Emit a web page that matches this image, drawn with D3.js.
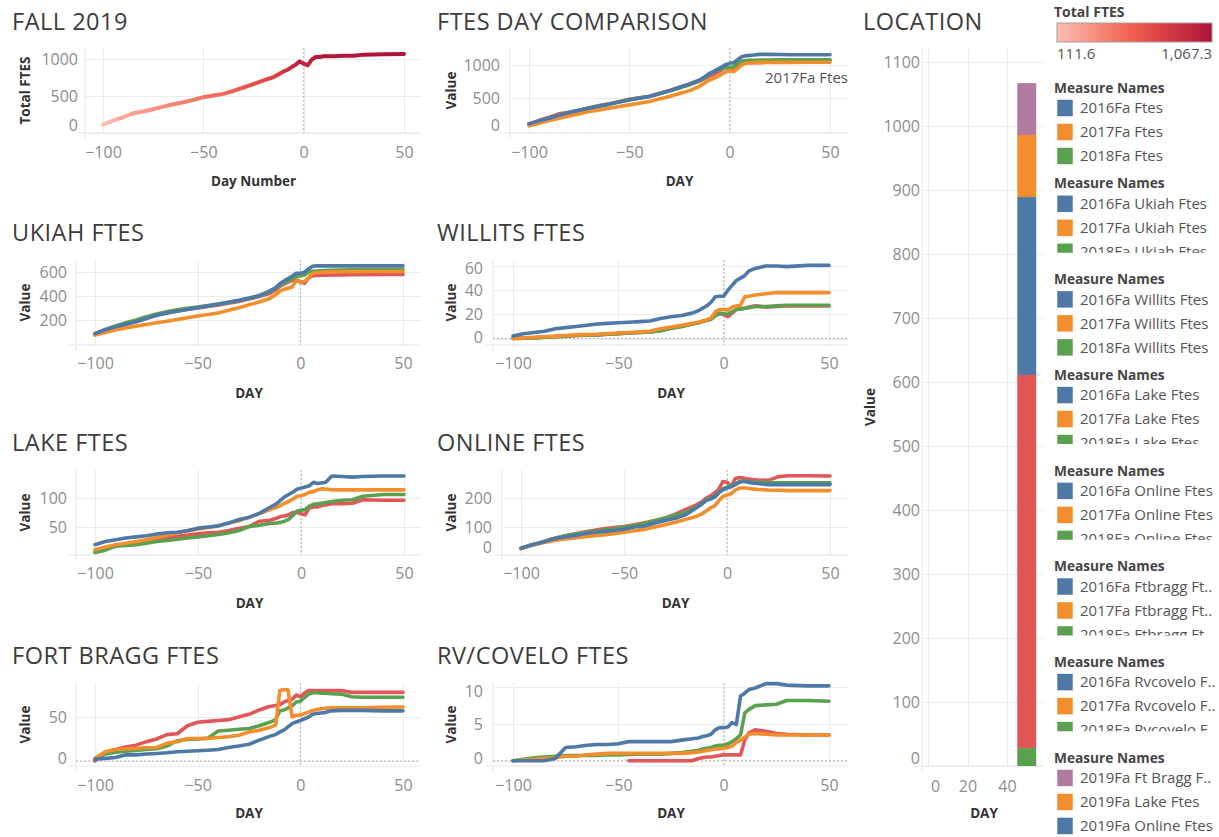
<!DOCTYPE html>
<html>
<head>
<meta charset="utf-8">
<title>FTES Dashboard</title>
<script src="https://cdn.jsdelivr.net/npm/d3@7"></script>
<style>
  body { margin: 0; background: #fff; }
  text { font-family: "Open Sans", "DejaVu Sans", sans-serif; }
  .ptitle { font-size: 23.5px; fill: #3c3c3c; letter-spacing: 0.5px; }
  .tick text { font-size: 16px; fill: #8d8d8d; }
  .axis-title { font-size: 13.5px; font-weight: bold; fill: #333; }
  .grid line { stroke: #ececec; shape-rendering: crispEdges; }
  .legend-head { font-size: 13.7px; font-weight: bold; fill: #444; }
  .legend-item { font-size: 15px; fill: #555; }
</style>
</head>
<body>
<svg id="chart" width="1219" height="837"></svg>
<script>
// day numbers sampled for every line chart
const days = [-100,-95,-90,-85,-80,-75,-70,-65,-60,-55,-50,-45,-40,-35,-30,-25,-20,-15,-12,-10,-8,-6,-4,-2,0,2,4,6,8,10,12,15,20,25,30,40,50];

// total FTES
const total2019 = [112,167,213,267,290,321,357,389,416,448,484,507,529,570,615,661,710,756,801,833,855,891,923,968,937,914,991,1027,1027,1036,1036,1036,1045,1045,1059,1063,1067];
const ftes2016 = [115,160,200,245,285,318,350,380,410,442,475,500,525,570,615,665,715,775,830,875,905,935,970,1005,1025,1035,1080,1125,1140,1145,1150,1160,1160,1158,1155,1155,1155];
const ftes2017 = [85,125,165,200,235,268,300,325,350,375,400,425,450,488,525,570,615,680,740,775,800,825,860,895,915,900,950,1000,1025,1035,1038,1040,1040,1040,1040,1042,1042];
const ftes2018 = [110,155,195,240,285,320,355,385,415,448,480,503,527,568,608,655,702,765,815,860,895,925,950,960,960,975,1030,1060,1068,1070,1072,1075,1075,1078,1078,1080,1080];

// Ukiah
const uk2016 = [88,118,143,165,185,213,240,258,273,288,303,317,331,347,364,383,405,441,470,502,525,545,565,590,590,598,626,648,651,651,651,651,651,651,651,651,651];
const uk2017 = [74,96,116,133,149,163,177,190,204,219,234,246,259,281,303,326,350,378,410,441,455,465,474,530,516,521,552,590,595,598,600,602,603,603,604,604,604];
const uk2018 = [85,122,150,178,200,228,250,268,285,297,308,320,333,347,362,380,400,435,462,490,515,528,540,560,570,575,600,605,608,610,612,615,617,618,620,620,620];
const uk2019 = [80,110,140,165,190,215,240,258,275,290,300,312,325,340,355,375,395,420,450,480,500,515,530,535,520,505,550,570,572,573,574,575,576,577,578,580,580];

// Willits
const wi2016 = [2,4,5,6,8,9,10,11,12,12.5,13,13.5,14,14.5,16.5,18,19,21,23,25,27,30,34.5,35,35,40,44,48,50,52,56,58,60,60,59.5,60.5,60.5];
const wi2017 = [0,0.5,1,1.5,2,2.5,3,3.2,3.5,4,4.5,5,5.5,6,8,9.5,11,12.5,13.5,14.5,15.5,17,22,24,24,23.5,26,27,27.5,34.5,35,36,37,38,38,38,38];
const wi2018 = [0,0.3,0.5,1,1.5,2,2.5,2.8,3,3.5,4,4.5,5,5.5,6.5,8.5,10,12,13,14,15,16,19,21,20.5,20,22,24,24.5,25,25.5,26.5,26.5,27,27.5,27.5,27.5];
const wi2019 = [0,0.3,0.5,1,1.5,2,2.5,2.8,3,3.5,4,4.5,5,5.5,6.5,8.5,10,12,13,14,15,16,19,20.5,20,18,21,24,24.5,25,26,27,26,26.5,27,27,27];

// Lake
const la2016 = [19.5,25,28,31,33,35,38,40,41,44,48,50,52,57,63,67,74,84,90,96,102,106,110,115,117,119,121,127,125,126,127,138,137,136,137,138,138];
const la2017 = [11,15.5,19.5,22,25,28,32,36,40,43,46.5,49,52,57,61,67,73,80,84,87,91,94,98,103,104,106,110,111,114,116,115.5,114,114,114,114,114,114];
const la2018 = [6,10,17,18,19.5,22,25,27,29,31,33,35,37,40,44,51,53,56,57,58,60,63,70,77,79,80,86,89,90,91,92,94,96,97,103,106,106];
const la2019 = [8,14,18,20,22,25,27,31,34,36,38.5,40,41,44,48,51,60,61.5,65,68,69,71,75,75,73,71,83,84.5,84.5,87,88,90,90,91,97,96,96];

// Online
const on2016 = [23.5,35,43.5,55,62,67,74,79,82,86,90.5,98,102,112,121,129,141,165,180,192,196,203,218,229,235,239,247,255,259,255,253,251,247,247,247,247,247];
const on2017 = [23,33,42,49,55,59,63,67,70,75,80,85,90,98,106,115,125,135,145,155,165,172,190,205,210,215,228,235,236,234,232,230,228,227,226,226,226];
const on2018 = [23,35,45,55,65,72,77,82,87,92,97,103,110,120,130,140,150,168,182,195,200,205,220,232,238,243,250,258,260,258,256,255,253,253,253,253,253];
const on2019 = [23,35,45,56,65,73,80,86,92,96,100,106,113,121,130,143,160,175,188,200,208,218,230,258,255,240,268,272,270,267,265,263,262,275,278,278,277];

// Fort Bragg
const fb2016 = [2,3,4,7,7,8,8.6,9.4,10.5,11,11.7,12.3,13,15.4,17,19,23.7,28,30,33,35,38.7,42.5,44.4,46,48,50,53,54,54.5,55,57,57.5,57.5,57.5,57,57];
const fb2017 = [3,10.5,13,14,14.3,15,15.4,20,21.8,25.5,25.5,25.5,26.7,27.5,29.3,33,35,38,41,80,81,81,50,52,52,53.8,55.6,57.5,58.5,59.4,60,60.5,60.5,60.5,60.5,61,61.3];
const fb2018 = [2,8,10,11,12,13,14,17,23,24.5,25,26,34,35,36,37,40,44,47,57,58,60,63,67,68,72,76,77.5,77.5,77,77,76.5,76,73,72.5,72.5,72.5];
const fb2019 = [0,10,13,16,18,22,25,30,31,40,44,45,46,47,50,53,58,62,63,64,67,69,70,75,73,77,80,80,80,80,80,80,80,78,78,78,78];

// RV / Covelo
const rv2016 = [0,0,0,0,0.3,1.8,1.9,2.1,2.2,2.2,2.3,2.6,2.6,2.6,2.6,2.6,2.8,3.0,3.1,3.3,3.4,3.6,4.2,4.5,4.5,4.6,5.2,4.9,8.8,9.2,9.7,9.9,10.5,10.5,10.3,10.2,10.2];
const rv2017 = [0,0.1,0.2,0.3,0.4,0.6,0.6,0.8,0.9,1.0,1.0,1.0,1.0,1.0,1.0,1.0,1.0,1.1,1.2,1.3,1.4,1.5,1.6,1.6,1.7,1.8,2.0,2.5,2.8,3.2,3.6,3.7,3.6,3.5,3.5,3.5,3.5];
const rv2018 = [0,0.2,0.4,0.5,0.6,0.7,0.7,0.7,0.7,0.8,0.8,0.85,0.9,0.9,0.9,1.0,1.1,1.3,1.4,1.6,1.7,1.8,2.0,2.1,2.1,2.3,2.6,3.0,3.5,6.5,7.0,7.5,7.6,7.7,8.2,8.2,8.1];
const rv2019 = [null,null,null,null,null,null,null,null,null,null,null,0,0,0,0,0,0,0,0.3,0.4,0.5,0.5,0.6,0.7,0.8,0.8,0.8,0.8,0.8,2.8,3.8,4.2,4.0,3.7,3.6,3.5,3.5];

// location stacked bar (fall 2019)
const locNames = ["2019Fa Willits Ftes","2019Fa Ukiah Ftes","2019Fa Online Ftes","2019Fa Lake Ftes","2019Fa Ft Bragg Ftes"];
const locValues = [28, 583, 278, 97, 81];
const locDay = 50;
const locTicks = [0,100,200,300,400,500,600,700,800,900,1000,1100];

// legend
const legendGroups = [
  ["2016Fa Ftes","2017Fa Ftes","2018Fa Ftes"],
  ["2016Fa Ukiah Ftes","2017Fa Ukiah Ftes","2018Fa Ukiah Ftes"],
  ["2016Fa Willits Ftes","2017Fa Willits Ftes","2018Fa Willits Ftes"],
  ["2016Fa Lake Ftes","2017Fa Lake Ftes","2018Fa Lake Ftes"],
  ["2016Fa Online Ftes","2017Fa Online Ftes","2018Fa Online Ftes"],
  ["2016Fa Ftbragg Ft..","2017Fa Ftbragg Ft..","2018Fa Ftbragg Ft.."],
  ["2016Fa Rvcovelo F..","2017Fa Rvcovelo F..","2018Fa Rvcovelo F.."],
  ["2019Fa Ft Bragg F..","2019Fa Lake Ftes","2019Fa Online Ftes"]
];
const totalMin = 111.6, totalMax = 1067.3;

const BLUE = "#4e79a7", ORANGE = "#f28e2b", GREEN = "#59a14f", RED = "#e15759", PURPLE = "#b07aa1";
const legendColors = [
  [BLUE, ORANGE, GREEN],[BLUE, ORANGE, GREEN],[BLUE, ORANGE, GREEN],[BLUE, ORANGE, GREEN],
  [BLUE, ORANGE, GREEN],[BLUE, ORANGE, GREEN],[BLUE, ORANGE, GREEN],[PURPLE, ORANGE, BLUE]
];
const locColors = [GREEN, RED, BLUE, ORANGE, PURPLE];

const totalColor = d3.scaleLinear()
    .domain([totalMin, (totalMin + totalMax) / 2, totalMax])
    .range(["#ffbeb2", "#f05c4d", "#ae123a"]);

const svg = d3.select("#chart");
const defs = svg.append("defs");

function four(a, b, c, d) {
    // red drawn first so the older years sit on top
    return [{ v: d, c: RED }, { v: c, c: GREEN }, { v: b, c: ORANGE }, { v: a, c: BLUE }];
}

const panels = [
    { title: "FALL 2019", tx: 12, ty: 30, left: 85, right: 420, top: 48, bottom: 133,
      xa: 103, xb: 404, yRef: 1000, y0: 133, y1: 59, yTicks: [0, 500, 1000], labelRight: 78,
      yTitle: "Total FTES", yTitleX: 25, xTitle: "Day Number", xTickY: 152, xTitleY: 181,
      gradient: total2019 },
    { title: "FTES DAY COMPARISON", tx: 437, ty: 30, left: 510, right: 848, top: 48, bottom: 133,
      xa: 529, xb: 830, yRef: 1000, y0: 131.5, y1: 65, yTicks: [0, 500, 1000], labelRight: 500,
      yTitle: "Value", yTitleX: 451, xTitle: "DAY", xTickY: 152, xTitleY: 181,
      series: four(ftes2016, ftes2017, ftes2018, total2019), note: "2017Fa Ftes", noteSeries: ftes2017 },
    { title: "UKIAH FTES", tx: 12, ty: 241, left: 76, right: 420, top: 260, bottom: 345,
      xa: 95, xb: 403, yRef: 600, y0: 344, y1: 272, yTicks: [200, 400, 600], labelRight: 67,
      yTitle: "Value", yTitleX: 25, xTitle: "DAY", xTickY: 363, xTitleY: 393,
      series: four(uk2016, uk2017, uk2018, uk2019) },
    { title: "WILLITS FTES", tx: 437, ty: 241, left: 493, right: 848, top: 260, bottom: 345,
      xa: 513, xb: 829, yRef: 60, y0: 338.5, y1: 266, yTicks: [0, 20, 40, 60], labelRight: 483,
      yTitle: "Value", yTitleX: 451, xTitle: "DAY", xTickY: 363, xTitleY: 393, zero: true,
      series: four(wi2016, wi2017, wi2018, wi2019) },
    { title: "LAKE FTES", tx: 12, ty: 451, left: 76, right: 420, top: 470, bottom: 555,
      xa: 95, xb: 404, yRef: 100, y0: 556, y1: 498, yTicks: [50, 100], labelRight: 67,
      yTitle: "Value", yTitleX: 25, xTitle: "DAY", xTickY: 573, xTitleY: 603,
      series: four(la2016, la2017, la2018, la2019) },
    { title: "ONLINE FTES", tx: 437, ty: 451, left: 502, right: 848, top: 470, bottom: 555,
      xa: 521, xb: 830, yRef: 200, y0: 555, y1: 498, yTicks: [0, 100, 200], labelRight: 492,
      yTitle: "Value", yTitleX: 451, xTitle: "DAY", xTickY: 573, xTitleY: 603,
      series: four(on2016, on2017, on2018, on2019) },
    { title: "FORT BRAGG FTES", tx: 12, ty: 664, left: 76, right: 420, top: 683, bottom: 766,
      xa: 95, xb: 403, yRef: 50, y0: 761, y1: 717, yTicks: [0, 50], labelRight: 67,
      yTitle: "Value", yTitleX: 25, xTitle: "DAY", xTickY: 785, xTitleY: 813, zero: true,
      series: four(fb2016, fb2017, fb2018, fb2019) },
    { title: "RV/COVELO FTES", tx: 437, ty: 664, left: 493, right: 848, top: 683, bottom: 766,
      xa: 513, xb: 829, yRef: 10, y0: 760.7, y1: 687.3, yTicks: [0, 5, 10], labelRight: 483,
      yTitle: "Value", yTitleX: 451, xTitle: "DAY", xTickY: 785, xTitleY: 813, zero: true,
      series: four(rv2016, rv2017, rv2018, rv2019) }
];

function drawFrame(p, x, y, xTicks, refLine) {
    const g = svg.append("g");
    svg.append("text").attr("class", "ptitle").attr("x", p.tx).attr("y", p.ty).text(p.title);

    g.append("g").attr("class", "grid")
        .attr("transform", `translate(0,${p.bottom})`)
        .call(d3.axisBottom(x).tickValues(xTicks).tickSize(-(p.bottom - p.top)).tickFormat(""))
        .call(a => a.select(".domain").remove());
    g.append("g").attr("class", "grid")
        .attr("transform", `translate(${p.left},0)`)
        .call(d3.axisLeft(y).tickValues(p.yTicks).tickSize(-(p.right - p.left)).tickFormat(""))
        .call(a => a.select(".domain").remove());

    g.append("line").attr("x1", p.left).attr("x2", p.left).attr("y1", p.top).attr("y2", p.bottom + 6)
        .attr("stroke", "#e6e6e6");
    g.append("line").attr("x1", p.left - 7).attr("x2", p.right).attr("y1", p.bottom).attr("y2", p.bottom)
        .attr("stroke", "#e6e6e6");

    if (refLine) {
        g.append("line").attr("x1", x(0)).attr("x2", x(0)).attr("y1", p.top).attr("y2", p.bottom)
            .attr("stroke", "#b3b3b3").attr("stroke-dasharray", "2,2");
    }
    if (p.zero) {
        g.append("line").attr("x1", p.left).attr("x2", p.right).attr("y1", y(0)).attr("y2", y(0))
            .attr("stroke", "#b3b3b3").attr("stroke-dasharray", "2,2");
    }

    // y tick labels, kept inside the pane like Tableau does
    const ya = g.append("g").attr("transform", `translate(${p.labelRight},0)`)
        .call(d3.axisLeft(y).tickValues(p.yTicks).tickSize(0).tickPadding(0).tickFormat(d3.format("d")))
        .attr("font-size", null).attr("font-family", null);
    ya.select(".domain").remove();
    ya.selectAll(".tick text").attr("y", d => {
        const py = y(d);
        const c = Math.max(p.top + 8, Math.min(p.bottom - 8, py));
        return c - py;
    }).attr("dy", "0.35em");

    const xa = g.append("g").attr("transform", `translate(0,${p.xTickY})`)
        .call(d3.axisBottom(x).tickValues(xTicks).tickSize(0).tickFormat(d3.format("d")))
        .attr("font-size", null).attr("font-family", null);
    xa.select(".domain").remove();
    xa.selectAll(".tick text").attr("y", 0).attr("dy", "0.35em")
        .attr("x", d => Math.max(p.left + 13, x(d)) - x(d));

    svg.append("text").attr("class", "axis-title")
        .attr("transform", `translate(${p.yTitleX},${(p.top + p.bottom) / 2}) rotate(-90)`)
        .attr("text-anchor", "middle").attr("dy", "0.35em").text(p.yTitle);
    svg.append("text").attr("class", "axis-title")
        .attr("x", (p.xTitleCx !== undefined) ? p.xTitleCx : (x.range()[0] + x.range()[1]) / 2)
        .attr("y", p.xTitleY).attr("text-anchor", "middle").attr("dy", "0.35em").text(p.xTitle);
    return g;
}

panels.forEach((p, i) => {
    const x = d3.scaleLinear().domain([-100, 50]).range([p.xa, p.xb]);
    const y = d3.scaleLinear().domain([0, p.yRef]).range([p.y0, p.y1]);
    const g = drawFrame(p, x, y, [-100, -50, 0, 50], true);

    const line = d3.line()
        .defined(d => d[1] !== null)
        .x(d => x(d[0]))
        .y(d => y(d[1]));

    if (p.gradient) {
        const grad = defs.append("linearGradient").attr("id", "grad" + i)
            .attr("gradientUnits", "userSpaceOnUse")
            .attr("x1", x(-100)).attr("x2", x(50)).attr("y1", 0).attr("y2", 0);
        grad.selectAll("stop").data(days).enter().append("stop")
            .attr("offset", (d) => (d + 100) / 150)
            .attr("stop-color", (d, k) => totalColor(p.gradient[k]));
        g.append("path")
            .datum(days.map((d, k) => [d, p.gradient[k]]))
            .attr("fill", "none")
            .attr("stroke", `url(#grad${i})`)
            .attr("stroke-width", 4)
            .attr("stroke-linejoin", "round")
            .attr("stroke-linecap", "round")
            .attr("d", line);
    } else {
        g.selectAll(".series").data(p.series).enter().append("path")
            .attr("fill", "none")
            .attr("stroke", s => s.c)
            .attr("stroke-width", 3.6)
            .attr("stroke-linejoin", "round")
            .attr("stroke-linecap", "round")
            .attr("d", s => line(days.map((d, k) => [d, s.v[k]])));
    }

    if (p.note) {
        const last = p.noteSeries[p.noteSeries.length - 1];
        svg.append("text").attr("class", "legend-item")
            .attr("x", p.right).attr("y", y(last) + 16)
            .attr("text-anchor", "end").attr("dy", "0.35em").text(p.note);
    }
});

// LOCATION stacked bar
(function () {
    const p = { title: "LOCATION", tx: 863, ty: 30, left: 922, right: 1043, top: 48, bottom: 766,
        yTicks: locTicks, labelRight: 920, yTitle: "Value", yTitleX: 870, xTitle: "DAY",
        xTickY: 786, xTitleY: 813, xTitleCx: 984 };
    const x = d3.scaleLinear().domain([0, 50]).range([928, 1026.75]);
    const y = d3.scaleLinear().domain([0, 1100]).range([766, 62]);
    const g = drawFrame(p, x, y, [0, 20, 40], false);

    const row = {};
    locNames.forEach((n, k) => { row[n] = locValues[k]; });
    const stacked = d3.stack().keys(locNames)([row]);
    const half = 4.8;
    g.selectAll(".seg").data(stacked).enter().append("rect")
        .attr("x", x(locDay - half))
        .attr("width", x(locDay + half) - x(locDay - half))
        .attr("y", s => y(s[0][1]))
        .attr("height", s => y(s[0][0]) - y(s[0][1]))
        .attr("fill", (s, k) => locColors[k]);
})();

// colour legend for Total FTES
(function () {
    svg.append("text").attr("class", "legend-head").attr("x", 1054).attr("y", 12)
        .attr("dy", "0.35em").style("font-size", "14px").text("Total FTES");
    const lg = defs.append("linearGradient").attr("id", "totalRamp");
    d3.range(0, 1.0001, 0.1).forEach(t => {
        lg.append("stop").attr("offset", t).attr("stop-color", totalColor(totalMin + t * (totalMax - totalMin)));
    });
    svg.append("rect").attr("x", 1057).attr("y", 23).attr("width", 155).attr("height", 19)
        .attr("fill", "url(#totalRamp)").attr("stroke", "#a0a0a0");
    const fmt = d3.format(",.1f");
    svg.append("text").attr("class", "legend-item").attr("x", 1057).attr("y", 54)
        .attr("dy", "0.35em").text(fmt(totalMin));
    svg.append("text").attr("class", "legend-item").attr("x", 1212).attr("y", 54)
        .attr("dy", "0.35em").attr("text-anchor", "end").text(fmt(totalMax));
})();

// Measure Names legends (most boxes are cut off at the bottom, as in Tableau)
const cutGroups = [1, 3, 4, 5, 6];
legendGroups.forEach((items, gi) => {
    const hy = 88 + gi * 95.7;
    const clipH = cutGroups.includes(gi) ? 81 : 92;
    defs.append("clipPath").attr("id", "lc" + gi)
        .append("rect").attr("x", 1045).attr("y", hy - 12).attr("width", 174).attr("height", clipH);
    const g = svg.append("g").attr("clip-path", `url(#lc${gi})`);
    g.append("text").attr("class", "legend-head").attr("x", 1054).attr("y", hy)
        .attr("dy", "0.35em").text("Measure Names");
    items.forEach((name, k) => {
        const iy = hy + 20 + k * 24;
        g.append("rect").attr("x", 1057).attr("y", iy - 8.5).attr("width", 16).attr("height", 17)
            .attr("fill", legendColors[gi][k]).attr("stroke", "#fff").attr("stroke-width", 0.5);
        g.append("text").attr("class", "legend-item").attr("x", 1080).attr("y", iy)
            .attr("dy", "0.35em").text(name);
    });
});
</script>
</body>
</html>
